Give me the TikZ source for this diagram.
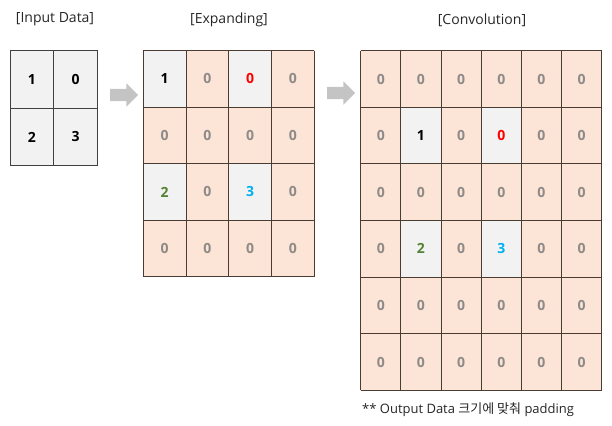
\documentclass[tikz,border=0pt]{standalone}
\usepackage{fontspec}
\setmainfont{Open Sans}
\newfontfamily\kr{Noto Sans CJK KR}
\usetikzlibrary{shapes.arrows}
\definecolor{peach}{HTML}{FCE4D6}
\definecolor{lgrey}{HTML}{F2F2F2}
\definecolor{gline}{HTML}{4A3C33}
\definecolor{zgrey}{HTML}{8E8A88}
\definecolor{dred}{HTML}{FF0000}
\definecolor{dgreen}{HTML}{548235}
\definecolor{dblue}{HTML}{00B0F0}
\definecolor{arrowgrey}{HTML}{C4C4C4}
\tikzset{
  cellbox/.style={draw=none, inner sep=0pt, outer sep=0pt,
    font=\bfseries\fontsize{14}{14}\selectfont},
  peachcell/.style={cellbox, fill=peach, text=zgrey},
  greycell/.style={cellbox, fill=lgrey},
  inputcell/.style={greycell, text=black, minimum width=43.75pt, minimum height=57.5pt},
  expcell/.style={minimum width=42.7pt, minimum height=56.5pt},
  convcell/.style={minimum width=40.17pt, minimum height=56.6pt},
  gridline/.style={draw=gline, line width=1pt},
  title/.style={font=\fontsize{14}{14}\selectfont, text=black!85},
  blockarrow/.style={single arrow, fill=arrowgrey, draw=none, minimum height=28pt,
    text height=6pt, text depth=6pt, text width=0pt,
    single arrow head extend=5.5pt, single arrow head indent=0pt, inner sep=0pt}
}
\begin{document}
\begin{tikzpicture}[x=1pt,y=-1pt]
\useasboundingbox (0,0) rectangle (612,425);
% titles
\node[title] (t1) at (55,19) {[Input Data]};
\node[title] (t2) at (229,20) {[Expanding]};
\node[title] (t3) at (482,20) {[Convolution]};
% input grid
\node[inputcell] (i11) at ({10+0.5*43.75},{50.7+0.5*57.5}) {1};
\node[inputcell] (i12) at ({10+1.5*43.75},{50.7+0.5*57.5}) {0};
\node[inputcell] (i21) at ({10+0.5*43.75},{50.7+1.5*57.5}) {2};
\node[inputcell] (i22) at ({10+1.5*43.75},{50.7+1.5*57.5}) {3};
\foreach \k in {0,1,2}{
  \draw[gridline, draw=black!75] ({10+\k*43.75},50.7) -- ({10+\k*43.75},{50.7+2*57.5});
  \draw[gridline, draw=black!75] (10,{50.7+\k*57.5}) -- ({10+2*43.75},{50.7+\k*57.5});
}
% arrows
\node[blockarrow] (a1) at (121,95) {};
\node[blockarrow] (a2) at (338,93) {};
% expanding grid
\foreach \r in {1,...,4}{\foreach \c in {1,...,4}{
  \pgfmathtruncatemacro\isspec{(mod(\r,2)==1)&&(mod(\c,2)==1)}
  \ifnum\isspec=0
    \node[peachcell, expcell] (e\r\c) at ({143.3+(\c-0.5)*42.7},{50.7+(\r-0.5)*56.5}) {0};
  \fi
}}
\node[greycell, expcell, text=black] (e11) at ({143.3+0.5*42.7},{50.7+0.5*56.5}) {1};
\node[greycell, expcell, text=dred] (e13) at ({143.3+2.5*42.7},{50.7+0.5*56.5}) {0};
\node[greycell, expcell, text=dgreen] (e31) at ({143.3+0.5*42.7},{50.7+2.5*56.5}) {2};
\node[greycell, expcell, text=dblue] (e33) at ({143.3+2.5*42.7},{50.7+2.5*56.5}) {3};
\foreach \k in {0,...,4}{
  \draw[gridline] ({143.3+\k*42.7},50.7) -- ({143.3+\k*42.7},{50.7+4*56.5});
  \draw[gridline] (143.3,{50.7+\k*56.5}) -- ({143.3+4*42.7},{50.7+\k*56.5});
}
% convolution grid
\foreach \r in {1,...,6}{\foreach \c in {1,...,6}{
  \pgfmathtruncatemacro\isspec{(mod(\r,2)==0)&&(mod(\c,2)==0)&&(\r<6)&&(\c<6)}
  \ifnum\isspec=0
    \node[peachcell, convcell] (c\r\c) at ({360.7+(\c-0.5)*40.17},{50.7+(\r-0.5)*56.6}) {0};
  \fi
}}
\node[greycell, convcell, text=black] (c22) at ({360.7+1.5*40.17},{50.7+1.5*56.6}) {1};
\node[greycell, convcell, text=dred] (c24) at ({360.7+3.5*40.17},{50.7+1.5*56.6}) {0};
\node[greycell, convcell, text=dgreen] (c42) at ({360.7+1.5*40.17},{50.7+3.5*56.6}) {2};
\node[greycell, convcell, text=dblue] (c44) at ({360.7+3.5*40.17},{50.7+3.5*56.6}) {3};
\foreach \k in {0,...,6}{
  \draw[gridline] ({360.7+\k*40.17},50.7) -- ({360.7+\k*40.17},{50.7+6*56.6});
  \draw[gridline] (360.7,{50.7+\k*56.6}) -- ({360.7+6*40.17},{50.7+\k*56.6});
}
% footnote
\node[font=\fontsize{13}{13}\selectfont, text=black!85, anchor=west, inner sep=0pt] (note) at (362,410)
  {** Output Data {\kr 크기에 맞춰} padding};
\end{tikzpicture}
\end{document}
